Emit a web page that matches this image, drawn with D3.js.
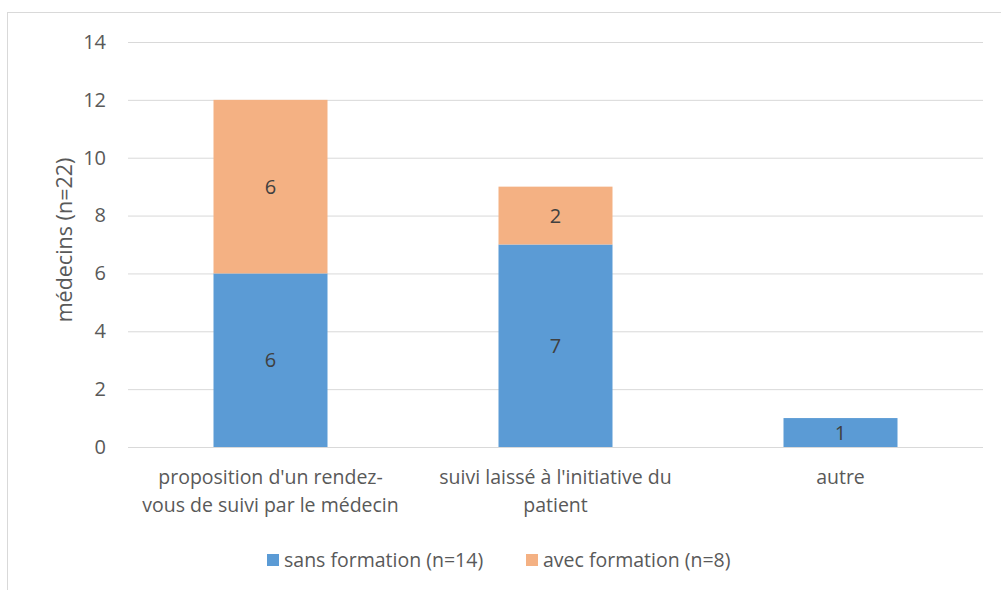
<!DOCTYPE html>
<html>
<head>
<meta charset="utf-8">
<script src="https://cdn.jsdelivr.net/npm/d3@7"></script>
<style>
  body { margin: 0; background: #fff; }
  text { font-family: "Open Sans", sans-serif; fill: #595959; }
</style>
</head>
<body>
<svg width="1001" height="590"></svg>
<script>
// chart data
const categories = [
    ["proposition d'un rendez-", "vous de suivi par le médecin"],
    ["suivi laissé à l'initiative du", "patient"],
    ["autre"]
];
const sansFormation = [6, 7, 1];
const avecFormation = [6, 2, 0];
const seriesNames = ['sans formation (n=14)', 'avec formation (n=8)'];
const seriesColors = ['#5B9BD5', '#F4B183'];
const yTicks = [0, 2, 4, 6, 8, 10, 12, 14];

const svg = d3.select('svg');
const fs = '19.5px';

// outer frame (extends past the right/bottom edges)
svg.append('rect')
    .attr('x', 7.5).attr('y', 12.5)
    .attr('width', 1010).attr('height', 600)
    .attr('fill', 'none').attr('stroke', '#d9d9d9');

const plotLeft = 128, plotRight = 983, plotTop = 42, plotBottom = 447;

const x = d3.scaleBand()
    .domain(d3.range(categories.length))
    .range([plotLeft, plotRight])
    .paddingInner(0.6)
    .paddingOuter(0.3);

const y = d3.scaleLinear().domain([0, 14]).range([plotBottom, plotTop]);

// gridlines + tick labels
const yAxis = d3.axisLeft(y).tickValues(yTicks).tickSize(-(plotRight - plotLeft)).tickPadding(22);
const gy = svg.append('g').attr('transform', 'translate(' + plotLeft + ',0)').call(yAxis);
gy.select('.domain').remove();
gy.selectAll('.tick line').attr('stroke', '#d9d9d9');
gy.selectAll('.tick text').style('font-size', '20px').attr('fill', '#595959');

// stacked data
const rows = categories.map(function(c, i) { return { i: i, sans: sansFormation[i], avec: avecFormation[i] }; });
const stack = d3.stack().keys(['sans', 'avec'])(rows);

stack.forEach(function(layer, k) {
    const segs = layer.filter(function(d) { return d[1] - d[0] > 0; });
    const g = svg.append('g');
    g.selectAll('rect')
        .data(segs)
        .enter().append('rect')
        .attr('x', function(d) { return x(d.data.i); })
        .attr('width', x.bandwidth())
        .attr('y', function(d) { return y(d[1]); })
        .attr('height', function(d) { return y(d[0]) - y(d[1]); })
        .attr('fill', seriesColors[k]);
    g.selectAll('text')
        .data(segs)
        .enter().append('text')
        .attr('x', function(d) { return x(d.data.i) + x.bandwidth() / 2; })
        .attr('y', function(d) { return y((d[0] + d[1]) / 2); })
        .attr('dy', '0.35em')
        .attr('text-anchor', 'middle')
        .style('font-size', '20px')
        .style('fill', '#404040')
        .text(function(d) { return d[1] - d[0]; });
});

// baseline
svg.append('line')
    .attr('x1', plotLeft).attr('x2', plotRight)
    .attr('y1', y(0) + 0.5).attr('y2', y(0) + 0.5)
    .attr('stroke', '#d9d9d9');

// category labels
categories.forEach(function(lines, i) {
    const t = svg.append('text')
        .attr('text-anchor', 'middle')
        .style('font-size', fs);
    lines.forEach(function(l, j) {
        t.append('tspan')
            .attr('x', x(i) + x.bandwidth() / 2)
            .attr('y', 484 + j * 28)
            .text(l);
    });
});

// y title
svg.append('text')
    .attr('transform', 'translate(64,' + 240 + ') rotate(-90)')
    .attr('text-anchor', 'middle')
    .attr('dy', '0.35em')
    .style('font-size', '21.5px')
    .text('médecins (n=22)');

// legend
const legendPos = [267, 526];
seriesNames.forEach(function(n, k) {
    svg.append('rect')
        .attr('x', legendPos[k]).attr('y', 554)
        .attr('width', 12).attr('height', 12)
        .attr('fill', seriesColors[k]);
    svg.append('text')
        .attr('x', legendPos[k] + 17).attr('y', 560)
        .attr('dy', '0.35em')
        .style('font-size', fs)
        .text(n);
});
</script>
</body>
</html>
